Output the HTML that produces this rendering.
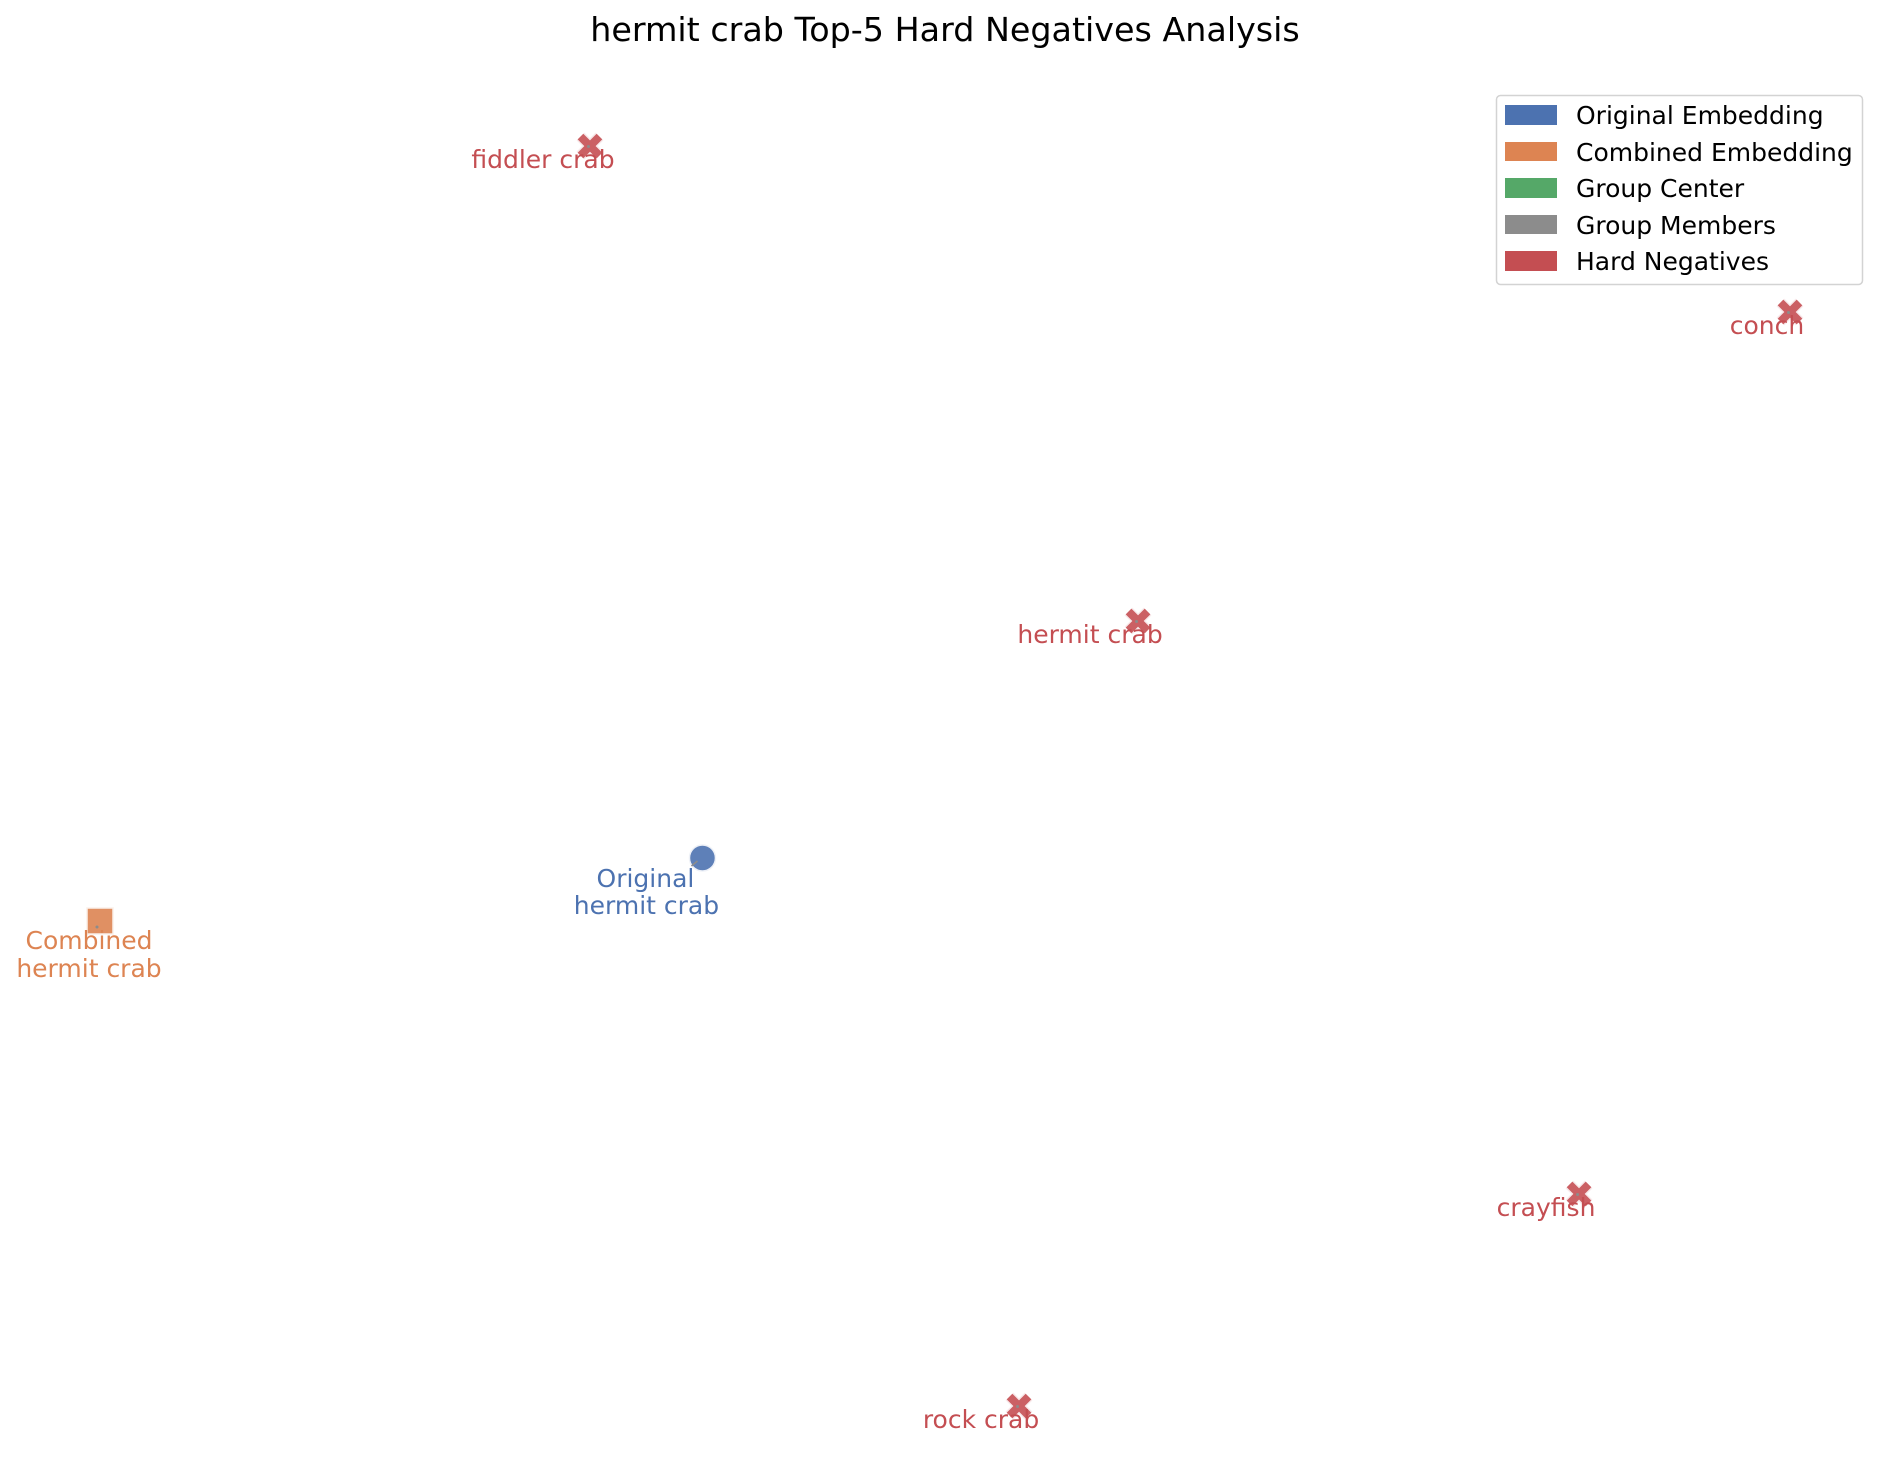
<!DOCTYPE html>
<html lang="en">
<head>
<meta charset="utf-8">
<title>hermit crab Top-5 Hard Negatives Analysis</title>
<style>
html,body{margin:0;padding:0;background:#fff;width:1890px;height:1483px;overflow:hidden}
svg{display:block;font-family:"DejaVu Sans","Liberation Sans",sans-serif}
</style>
</head>
<body>
<svg id="chart" xmlns="http://www.w3.org/2000/svg" width="1890" height="1483" viewBox="0 0 1890 1483">
  <rect width="1890" height="1483" fill="#ffffff"/>
  <text x="945" y="41" text-anchor="middle" font-size="33.33" fill="#000">hermit crab Top-5 Hard Negatives Analysis</text>
  <g id="marks"></g>
  <g>
    <rect x="1496.5" y="95.5" width="366" height="189" rx="4" fill="#fff" stroke="#d3d3d3" stroke-width="1.5"/>
    <g>
      <rect x="1505" y="105" width="52" height="20" fill="#4c72b0"/>
      <text x="1576" y="124" font-size="25" fill="#000">Original Embedding</text>
    </g>
    <g>
      <rect x="1505" y="142" width="52" height="19" fill="#dd8452"/>
      <text x="1576" y="161" font-size="25" fill="#000">Combined Embedding</text>
    </g>
    <g>
      <rect x="1505" y="178" width="52" height="20" fill="#55a868"/>
      <text x="1576" y="197" font-size="25" fill="#000">Group Center</text>
    </g>
    <g>
      <rect x="1505" y="215" width="52" height="19" fill="#8c8c8c"/>
      <text x="1576" y="234" font-size="25" fill="#000">Group Members</text>
    </g>
    <g>
      <rect x="1505" y="251" width="52" height="20" fill="#c44e52"/>
      <text x="1576" y="270" font-size="25" fill="#000">Hard Negatives</text>
    </g>
  </g>
</svg>
<script>
// Data (embedding-space coordinates)
const negativeNames = ["fiddler crab", "conch", "hermit crab", "crayfish", "rock crab"];
const negativeX = [-39.23, 93.37, 21.33, 70.06, 8.18];
const negativeY = [93.13, 68.36, 22.24, -63.28, -94.93];
const originalPoint = [-26.8, -13.13];
const combinedPoint = [-93.37, -22.54];

// Axis functions (axes hidden in the figure)
function xAxis(v) { return 40 + (v + 100) * 9.05; }
function yAxis(v) { return 1440 - (v + 100) * 6.7; }

// Label placement relative to each negative marker
const labelShiftX = [-47, -23, -48, -33, -38];

const NS = "http://www.w3.org/2000/svg";
const marks = document.getElementById("marks");
function make(tag, attrs, parent) {
  const el = document.createElementNS(NS, tag);
  for (const k in attrs) el.setAttribute(k, attrs[k]);
  (parent || marks).appendChild(el);
  return el;
}
function slug(s) { return s.replace(/\s+/g, "-"); }

// Original embedding point
{
  const cx = xAxis(originalPoint[0]), cy = yAxis(originalPoint[1]);
  const dot = make("circle", {cx: cx, cy: cy, r: 13, fill: "#4c72b0", "fill-opacity": 0.9, stroke: "#eef1f7", "stroke-width": 1.5});
  
  
  const tick = make("line", {x1: cx - 11, y1: cy + 8, x2: cx - 5, y2: cy + 3, stroke: "#8c8c8c", "stroke-width": 1.6});
  
  
  const l1 = make("text", {x: cx - 57, y: cy + 29, "text-anchor": "middle", "font-size": 25, fill: "#4c72b0"});
  l1.textContent = "Original";
  
  
  const l2 = make("text", {x: cx - 56, y: cy + 56, "text-anchor": "middle", "font-size": 25, fill: "#4c72b0"});
  l2.textContent = "hermit crab";
  
  
}

// Combined embedding point
{
  const cx = xAxis(combinedPoint[0]), cy = yAxis(combinedPoint[1]);
  const sq = make("rect", {x: cx - 13, y: cy - 13, width: 26, height: 26, fill: "#dd8452", "fill-opacity": 0.9, stroke: "#faf0ea", "stroke-width": 1.5});
  
  
  const tick = make("circle", {cx: cx - 3, cy: cy + 6, r: 1.5, fill: "#8c8c8c"});
  
  
  const l1 = make("text", {x: cx - 11, y: cy + 28, "text-anchor": "middle", "font-size": 25, fill: "#dd8452"});
  l1.textContent = "Combined";
  
  
  const l2 = make("text", {x: cx - 11, y: cy + 56, "text-anchor": "middle", "font-size": 25, fill: "#dd8452"});
  l2.textContent = "hermit crab";
  
  
}

// Hard negatives
negativeNames.forEach(function (name, i) {
  const cx = xAxis(negativeX[i]), cy = yAxis(negativeY[i]);
  const a = 9.5;
  const d = "M" + (cx - a) + " " + (cy - a) + "L" + (cx + a) + " " + (cy + a) + "M" + (cx + a) + " " + (cy - a) + "L" + (cx - a) + " " + (cy + a);
  const halo = make("path", {d: d, stroke: "#f8eaeb", "stroke-width": 11, fill: "none"});
  
  
  const mark = make("path", {d: d, stroke: "#cb6064", "stroke-width": 8, fill: "none"});
  
  
  const dot = make("circle", {cx: cx - 1.5, cy: cy + 0.5, r: 1.5, fill: "#8c8c8c"});
  
  
  const label = make("text", {x: cx + labelShiftX[i], y: cy + 22, "text-anchor": "middle", "font-size": 25, fill: "#c44e52"});
  label.textContent = name;
  
  
});
</script>
</body>
</html>
